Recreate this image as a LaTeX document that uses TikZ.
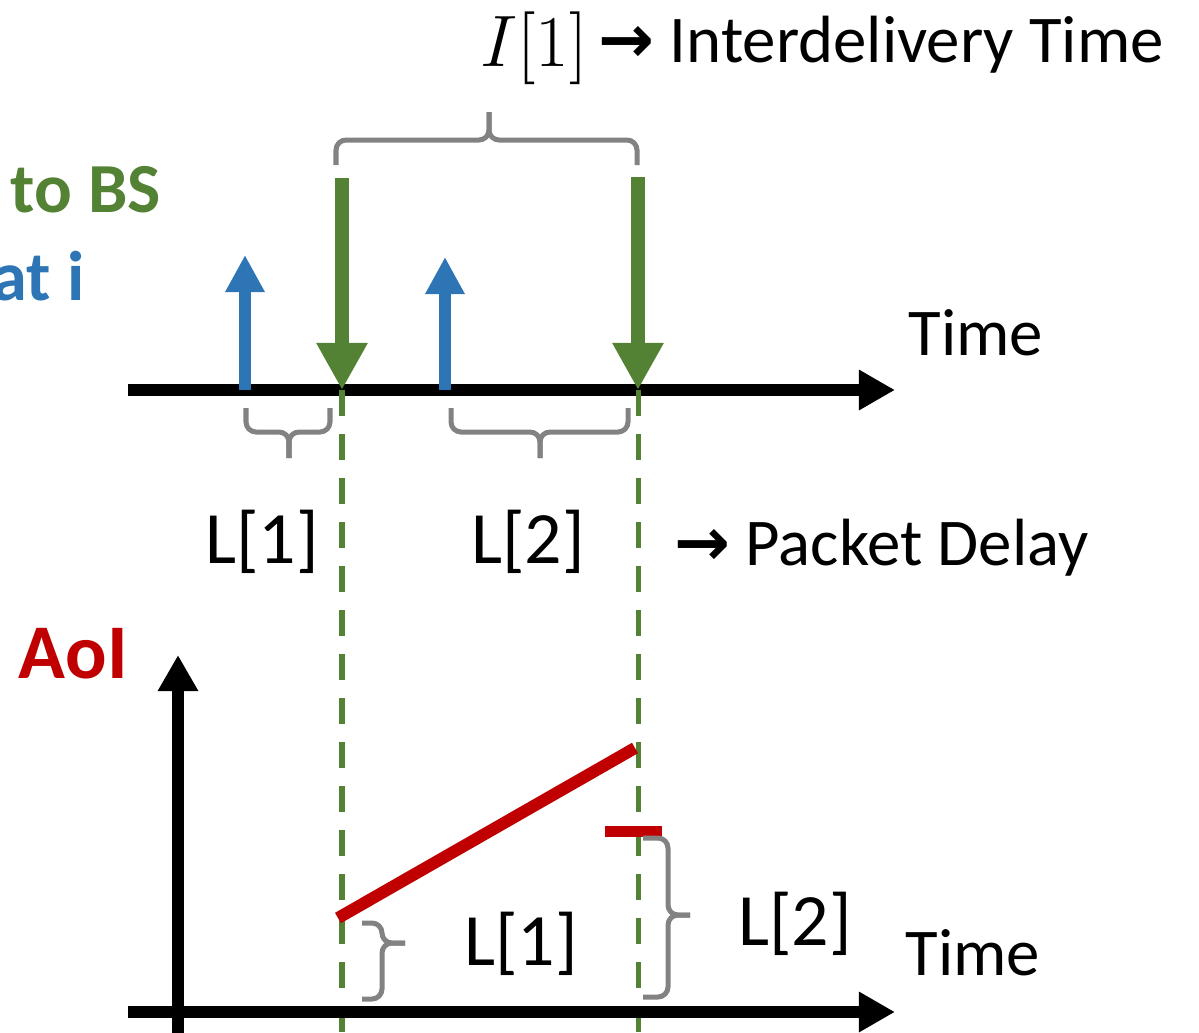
\documentclass[tikz,border=0pt]{standalone}
\usepackage{fontspec}
\setmainfont{Carlito}
\newfontfamily\arrowfont{DejaVu Sans}
\usepackage{xcolor}
\usepackage{tikz}
\usetikzlibrary{positioning, arrows.meta}
\definecolor{delgreen}{HTML}{548235}
\definecolor{genblue}{HTML}{2E75B6}
\definecolor{aoired}{HTML}{C00000}
\definecolor{bracegrey}{HTML}{828282}
\newcommand{\rarr}{{\arrowfont\bfseries\char"2192}}

\begin{document}
\begin{tikzpicture}[x=0.01cm, y=-0.01cm,
    timeaxis/.style={line width=0.12cm, -{Triangle[length=0.36cm, width=0.38cm]}},
    genarrow/.style={genblue, line width=0.12cm, -{Triangle[length=0.37cm, width=0.37cm]}},
    delarrow/.style={delgreen, line width=0.14cm, -{Triangle[length=0.47cm, width=0.48cm]}},
    guide/.style={delgreen, line width=0.05cm, dash pattern=on 0.26cm off 0.18cm},
    gbrace/.style={bracegrey, line width=0.05cm, rounded corners=0.1cm},
    lbl/.style={font=\fontsize{19}{23}\selectfont, inner sep=0pt},
    dlbl/.style={font=\fontsize{21}{25}\selectfont, inner sep=0pt},
    keylbl/.style={font=\fontsize{20}{24}\selectfont\bfseries, inner sep=0pt}]
  \useasboundingbox (0,0) rectangle (1199,1033);

  % time line with the events
  \coordinate (t0) at (128,390);
  \coordinate (t1) at (895,390);
  \coordinate (gen1) at (245,390);
  \coordinate (gen2) at (445,390);
  \coordinate (del1) at (342,390);
  \coordinate (del2) at (638,390);
  \draw[timeaxis] (t0) -- (t1);
  \node[lbl, anchor=base west] (ttop) at (908,355) {Time};

  % generated packets and deliveries
  \draw[genarrow] (gen1) -- ++(0,-135);
  \draw[genarrow] (gen2) -- ++(0,-133);
  \draw[delarrow] (del1 |- 0,178) -- (del1);
  \draw[delarrow] (del2 |- 0,177) -- (del2);
  \node[keylbl, text=delgreen, anchor=base west] (tobs) at (10,212) {to BS};
  \node[keylbl, text=genblue, anchor=base east] (ati) at (85,300) {at i};

  % guides down to the AoI plot
  \draw[guide] (del1) -- (del1 |- 0,1033);
  \draw[guide] (del2) -- (del2 |- 0,1033);

  % interdelivery time
  \draw[gbrace] (336,165) |- (489,140) -- (489,112);
  \draw[gbrace] (637,165) |- (489,140) -- (489,112);
  \node[font=\fontsize{22}{26}\selectfont, inner sep=0pt, anchor=base east] (itime) at (588,66) {$I[1]$};
  \node[lbl, anchor=base west] (itext) at (598,62) {\rarr\ Interdelivery Time};

  % packet delays
  \draw[gbrace] (246,408) |- (289,432) -- (289,458);
  \draw[gbrace] (330,408) |- (289,432) -- (289,458);
  \draw[gbrace] (451,408) |- (540,432) -- (540,458);
  \draw[gbrace] (628,408) |- (540,432) -- (540,458);
  \node[dlbl, anchor=base] (ltop1) at (262,563) {L[1]};
  \node[dlbl, anchor=base] (ltop2) at (528,563) {L[2]};
  \node[lbl, anchor=base west] (pdelay) at (674,565) {\rarr\ Packet Delay};

  % AoI plot
  \coordinate (a0) at (128,1012);
  \coordinate (a1) at (895,1012);
  \coordinate (y0) at (178,1033);
  \coordinate (y1) at (178,655);
  \draw[timeaxis] (a0) -- (a1);
  \draw[timeaxis, line width=0.11cm] (y0) -- (y1);
  \node[font=\fontsize{22}{26}\selectfont\bfseries, text=aoired, inner sep=0pt, anchor=base west] (aoi) at (18,678) {AoI};
  \node[lbl, anchor=base west] (tbot) at (905,975) {Time};

  \coordinate (r0) at (338,918);
  \coordinate (r1) at (635,748);
  \draw[aoired, line width=0.12cm] (r0) -- (r1);
  \draw[aoired, line width=0.11cm] (605,831) -- (662,831);

  \draw[gbrace] (362,923) -| (382,943) -- (405,943);
  \draw[gbrace] (362,999) -| (382,943) -- (405,943);
  \draw[gbrace] (643,838) -| (668,915) -- (690,915);
  \draw[gbrace] (643,997) -| (668,915) -- (690,915);
  \node[dlbl, anchor=base] (lbot1) at (521,965) {L[1]};
  \node[dlbl, anchor=base] (lbot2) at (795,945) {L[2]};
\end{tikzpicture}
\end{document}
